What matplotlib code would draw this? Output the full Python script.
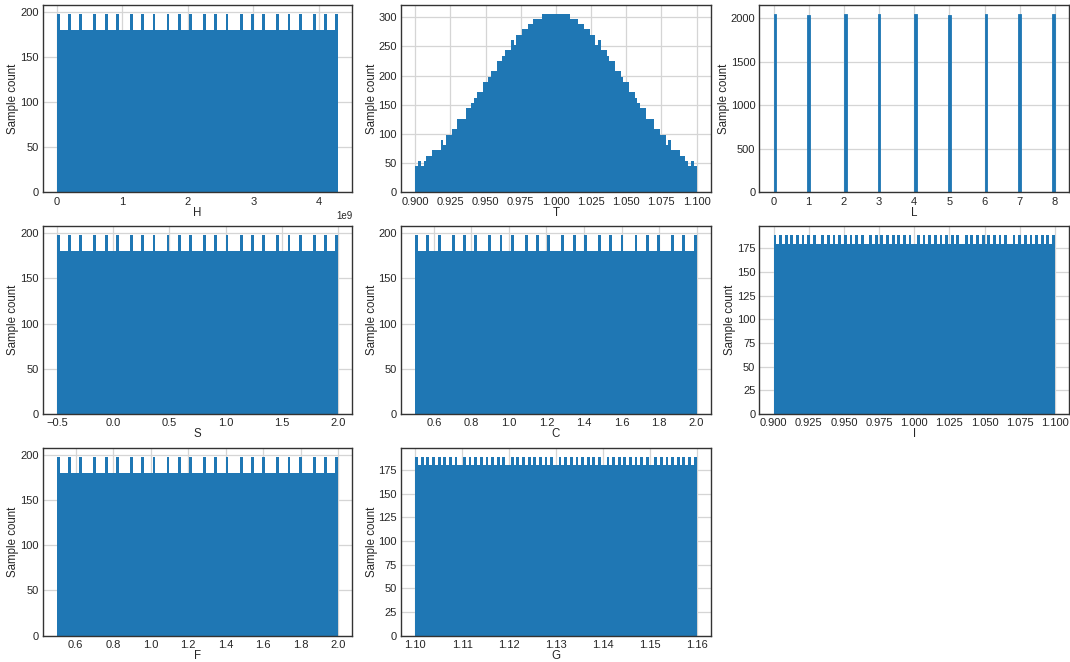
import numpy as np
import matplotlib
matplotlib.use("Agg")
import matplotlib.pyplot as plt

# bin counts (100 bins per panel)
counts_180_198 = [198, 180, 180, 180, 198, 180, 180, 180, 198, 180,
                  180, 180, 180, 198, 180, 180, 180, 198, 180, 180,
                  180, 198, 180, 180, 180, 180, 198, 180, 180, 180,
                  198, 180, 180, 180, 198, 180, 180, 180, 180, 198,
                  180, 180, 180, 198, 180, 180, 180, 198, 180, 180,
                  180, 180, 198, 180, 180, 180, 198, 180, 180, 180,
                  198, 180, 180, 180, 180, 198, 180, 180, 180, 198,
                  180, 180, 180, 198, 180, 180, 180, 180, 198, 180,
                  180, 180, 198, 180, 180, 180, 198, 180, 180, 180,
                  180, 198, 180, 180, 180, 198, 180, 180, 180, 198]

counts_180_189 = [189, 180, 189, 180, 189, 180, 189, 180, 189, 180,
                  189, 180, 189, 180, 189, 180, 180, 189, 180, 189,
                  180, 189, 180, 189, 180, 189, 180, 189, 180, 189,
                  180, 189, 180, 180, 189, 180, 189, 180, 189, 180,
                  189, 180, 189, 180, 189, 180, 189, 180, 189, 180,
                  180, 189, 180, 189, 180, 189, 180, 189, 180, 189,
                  180, 189, 180, 189, 180, 189, 180, 180, 189, 180,
                  189, 180, 189, 180, 189, 180, 189, 180, 189, 180,
                  189, 180, 189, 180, 180, 189, 180, 189, 180, 189,
                  180, 189, 180, 189, 180, 189, 180, 189, 180, 189]

t_counts = [45, 54, 45, 54, 63, 63, 72, 72, 72, 90,
            81, 99, 99, 108, 108, 126, 126, 126, 144, 144,
            153, 162, 171, 171, 189, 189, 198, 207, 207, 225,
            225, 234, 243, 243, 261, 252, 270, 270, 279, 279,
            288, 288, 297, 297, 297, 306, 306, 306, 306, 306,
            306, 306, 306, 306, 306, 297, 297, 297, 288, 288,
            279, 279, 270, 270, 252, 261, 243, 243, 234, 225,
            225, 207, 207, 198, 189, 189, 171, 171, 162, 153,
            144, 144, 126, 126, 126, 108, 108, 99, 99, 81,
            90, 72, 72, 72, 63, 63, 54, 45, 54, 45]

l_values = [0, 1, 2, 3, 4, 5, 6, 7, 8]
l_counts = [2052, 2034, 2052, 2052, 2052, 2034, 2052, 2052, 2052]

names = ["H", "T", "L", "S", "C", "I", "F", "G"]
ranges = {"H": (0, 4294967295), "T": (0.9, 1.1), "S": (-0.5, 2.0),
          "C": (0.5, 2.0), "I": (0.9, 1.1), "F": (0.5, 2.0), "G": (1.10, 1.16)}
panel_counts = {"H": counts_180_198, "T": t_counts, "S": counts_180_198,
                "C": counts_180_198, "I": counts_180_189, "F": counts_180_198,
                "G": counts_180_189}

plt.style.use("seaborn-v0_8-whitegrid")
plt.rcParams["font.family"] = ["Liberation Sans", "DejaVu Sans"]
plt.rcParams["text.color"] = "#262626"
plt.rcParams["axes.labelcolor"] = "#262626"
plt.rcParams["xtick.color"] = "#262626"
plt.rcParams["ytick.color"] = "#262626"

fig, axes = plt.subplots(3, 3, figsize=(10.7, 6.62), dpi=100)
fig.subplots_adjust(left=0.040, right=0.999, top=0.993, bottom=0.040,
                    wspace=0.158, hspace=0.18)

for ax, name in zip(axes.flat, names):
    if name == "L":
        ax.hist(l_values, bins=100, weights=l_counts, color="#1f77b4",
                edgecolor="#1f77b4", linewidth=0.6)
    else:
        lo, hi = ranges[name]
        edges = np.linspace(lo, hi, 101)
        centers = (edges[:-1] + edges[1:]) / 2
        ax.hist(centers, bins=edges, weights=panel_counts[name], color="#1f77b4")
    ax.set_xlabel(name, fontsize=8.3, labelpad=0)
    ax.set_ylabel("Sample count", fontsize=8.3, labelpad=0.5)
    ax.tick_params(labelsize=8, pad=3)
    ax.xaxis.get_offset_text().set_fontsize(7)
    ax.grid(True, color="#d5d5d5", linewidth=0.9)
    for sp in ax.spines.values():
        sp.set_color("#333333")
        sp.set_linewidth(1.0)

axes.flat[8].remove()

fig.savefig("out.png", dpi=100)
